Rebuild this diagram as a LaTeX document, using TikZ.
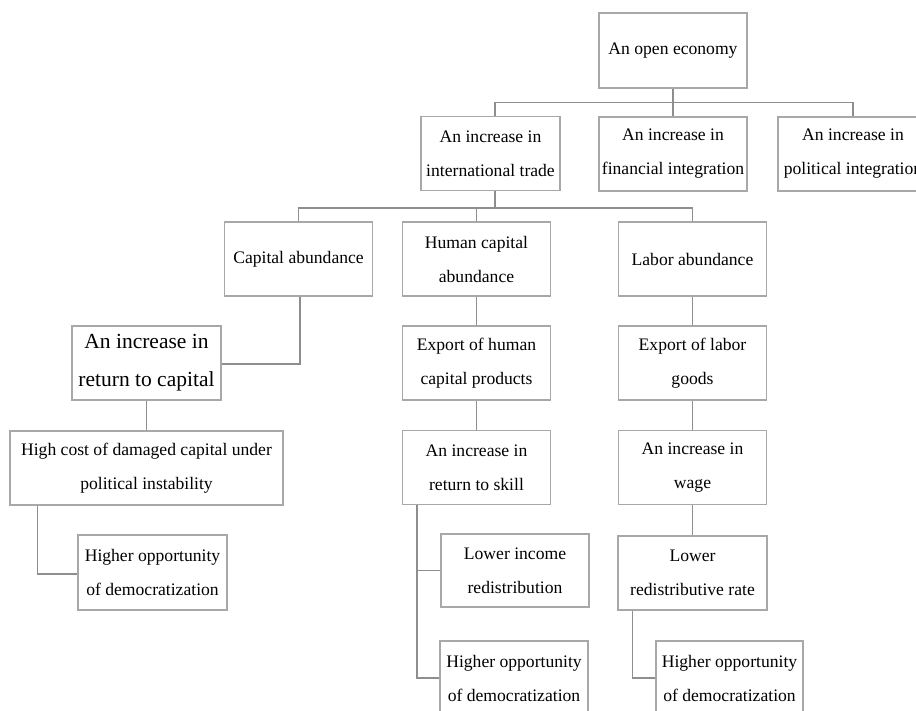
\documentclass[tikz,border=0pt]{standalone}
\usepackage{fontspec}
\setmainfont{Liberation Serif}
\definecolor{boxline}{HTML}{A8A8A8}
\definecolor{linkline}{HTML}{8E8E8E}
\begin{document}
\begin{tikzpicture}[x=1pt,y=-1pt,
  box/.style={draw=boxline,line width=1.2pt,fill=white,inner sep=0pt,align=center,
    minimum width=148pt,minimum height=74pt,
    font=\fontsize{17.6}{34}\selectfont},
  bigbox/.style={box,font=\fontsize{21.5}{38}\selectfont},
  link/.style={draw=linkline,line width=1.6pt}]
\useasboundingbox (0,0) rectangle (916,710);
\clip (0,0) rectangle (916,710);

% top level
\node[box,minimum height=75pt] (open) at (673,50.5) {An open economy};
\node[box,minimum width=139pt] (trade) at (490.5,153.5) {An increase in\\international trade};
\node[box] (fin) at (673,154) {An increase in\\financial integration};
\node[box,minimum width=150pt] (pol) at (853,154) {An increase in\\political integration};

% sources of abundance
\node[box] (cap) at (298.5,259) {Capital abundance};
\node[box] (hum) at (476.5,259) {Human capital\\abundance};
\node[box] (lab) at (692.5,259) {Labor abundance};

% capital branch
\node[bigbox,minimum width=149pt] (ret) at (146.5,363) {An increase in\\return to capital};
\node[box,minimum width=273pt] (high) at (146.5,468) {High cost of damaged capital under\\political instability};
\node[box,minimum width=149pt,minimum height=75pt] (hod1) at (152.5,572.5) {Higher opportunity\\of democratization};

% human capital branch
\node[box] (exh) at (476.5,363) {Export of human\\capital products};
\node[box] (skill) at (476.5,467.5) {An increase in\\return to skill};
\node[box,minimum height=73pt] (lowinc) at (515,570.5) {Lower income\\redistribution};
\node[box] (hod2) at (514,678) {Higher opportunity\\of democratization};

% labor branch
\node[box] (exl) at (692.5,363) {Export of labor\\goods};
\node[box] (wage) at (692.5,467.5) {An increase in\\wage};
\node[box,minimum width=149pt] (lowred) at (692.5,573) {Lower\\redistributive rate};
\node[box,minimum width=147pt] (hod3) at (729.5,678) {Higher opportunity\\of democratization};

% connectors
\draw[link] (open.south) -- ++(0,14) coordinate (j1);
\draw[link] ([xshift=4.5pt]trade.north) |- (j1);
\draw[link] (fin.north) -- (j1);
\draw[link] (pol.north) |- (j1);

\draw[link] ([xshift=4.5pt]trade.south) -- ++(0,17) coordinate (j2);
\draw[link] (cap.north) |- (j2);
\draw[link] (hum.north) |- (j2);
\draw[link] (lab.north) |- (j2);

\draw[link] ([xshift=1.5pt]cap.south) |- ([yshift=-1pt]ret.east);
\draw[link] (ret.south) -- (high.north);
\draw[link] ([xshift=28pt]high.south west) |- ([yshift=-1.5pt]hod1.west);

\draw[link] (hum.south) -- (exh.north);
\draw[link] (exh.south) -- (skill.north);
\draw[link] ([xshift=15pt]skill.south west) |- (lowinc.west);
\draw[link] ([xshift=15pt]skill.south west) |- (hod2.west);

\draw[link] (lab.south) -- (exl.north);
\draw[link] (exl.south) -- (wage.north);
\draw[link] (wage.south) -- (lowred.north);
\draw[link] ([xshift=15pt]lowred.south west) |- (hod3.west);
\end{tikzpicture}
\end{document}
